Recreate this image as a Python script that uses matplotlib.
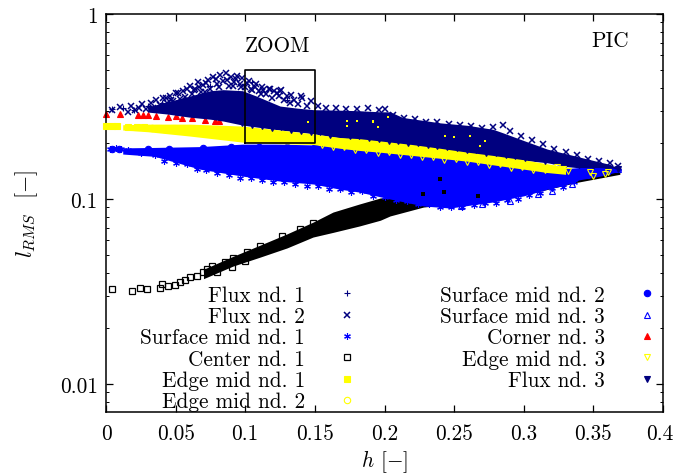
import matplotlib
matplotlib.use('Agg')
import matplotlib.pyplot as plt
from matplotlib.ticker import LogLocator, NullFormatter
from matplotlib.transforms import ScaledTranslation

plt.rcParams['font.family'] = ['cmr10', 'DejaVu Serif']
plt.rcParams['mathtext.fontset'] = 'cm'
plt.rcParams['axes.unicode_minus'] = False
plt.rcParams['axes.formatter.use_mathtext'] = True

# solid parts of the clouds
navy_h = [0.03, 0.044, 0.06, 0.075, 0.084, 0.098, 0.108, 0.125, 0.137, 0.149, 0.168, 0.182, 0.197, 0.204, 0.213, 0.24, 0.26, 0.278, 0.285, 0.30, 0.317, 0.33, 0.345, 0.36, 0.37]
navy_low = [0.295, 0.288, 0.277, 0.270, 0.264, 0.251, 0.245, 0.236, 0.231, 0.225, 0.214, 0.209, 0.203, 0.200, 0.196, 0.183, 0.176, 0.170, 0.167, 0.162, 0.157, 0.150, 0.146, 0.144, 0.143]
navy_high = [0.315, 0.335, 0.360, 0.385, 0.390, 0.385, 0.360, 0.318, 0.310, 0.304, 0.302, 0.300, 0.296, 0.296, 0.276, 0.258, 0.250, 0.238, 0.228, 0.207, 0.186, 0.176, 0.165, 0.155, 0.146]

yellow_h = [0.012, 0.03, 0.06, 0.098, 0.125, 0.149, 0.168, 0.182, 0.197, 0.22, 0.24, 0.26, 0.278, 0.30, 0.317, 0.33]
yellow_low = [0.236, 0.231, 0.219, 0.203, 0.199, 0.197, 0.188, 0.183, 0.179, 0.172, 0.166, 0.160, 0.153, 0.145, 0.139, 0.136]
yellow_high = [0.252, 0.254, 0.254, 0.248, 0.236, 0.225, 0.215, 0.212, 0.206, 0.197, 0.188, 0.179, 0.172, 0.163, 0.155, 0.149]

blue_h = [0.012, 0.035, 0.0675, 0.098, 0.125, 0.149, 0.168, 0.182, 0.204, 0.228, 0.247, 0.278, 0.30, 0.317, 0.33, 0.34, 0.355, 0.37]
blue_low = [0.175, 0.170, 0.145, 0.133, 0.125, 0.1205, 0.113, 0.109, 0.100, 0.0917, 0.0894, 0.0964, 0.104, 0.113, 0.119, 0.127, 0.133, 0.142]
blue_high = [0.189, 0.190, 0.192, 0.198, 0.198, 0.196, 0.192, 0.190, 0.185, 0.178, 0.172, 0.160, 0.152, 0.146, 0.146, 0.148, 0.148, 0.146]

black_h = [0.07, 0.0912, 0.1106, 0.13, 0.1487, 0.163, 0.182, 0.197, 0.204, 0.228, 0.25, 0.30, 0.338, 0.369]
black_low = [0.0371, 0.0434, 0.0485, 0.0544, 0.0623, 0.0660, 0.0715, 0.0768, 0.0810, 0.0905, 0.0940, 0.105, 0.123, 0.136]
black_high = [0.0417, 0.0490, 0.0563, 0.0648, 0.0750, 0.0850, 0.0940, 0.1013, 0.1023, 0.1020, 0.1000, 0.112, 0.130, 0.145]

# single markers, mostly along the rough edges of the clouds
flux1_h = [0.004, 0.012, 0.02, 0.03, 0.04, 0.05, 0.075, 0.105, 0.13]
flux1_y = [0.305, 0.312, 0.302, 0.318, 0.33, 0.33, 0.41, 0.43, 0.345]

flux2_h = [0.004, 0.01, 0.016, 0.018, 0.021, 0.024, 0.026, 0.029, 0.032, 0.034, 0.036, 0.039, 0.041, 0.044, 0.046, 0.048, 0.05, 0.053, 0.055, 0.057, 0.06, 0.062, 0.063, 0.066, 0.068, 0.07, 0.073, 0.075, 0.077, 0.08, 0.082, 0.084, 0.086, 0.088, 0.09, 0.092, 0.094, 0.096, 0.098, 0.1, 0.103, 0.105, 0.108, 0.11, 0.112, 0.115, 0.117, 0.119, 0.121, 0.124, 0.126, 0.128, 0.13, 0.132, 0.135, 0.138, 0.141, 0.144, 0.147, 0.152, 0.158, 0.165, 0.172, 0.18, 0.188, 0.196, 0.2, 0.206, 0.214, 0.222, 0.23, 0.238, 0.246, 0.254, 0.262, 0.27, 0.278, 0.285, 0.29, 0.298, 0.306, 0.314, 0.322, 0.33, 0.338, 0.346, 0.354, 0.362, 0.368,
           0.043, 0.052, 0.058, 0.067, 0.072, 0.079, 0.087, 0.093, 0.101, 0.107, 0.113, 0.118, 0.123, 0.125, 0.133, 0.14, 0.047, 0.064, 0.071, 0.081, 0.091, 0.097, 0.104, 0.111]
flux2_y = [0.303, 0.313, 0.295, 0.318, 0.302, 0.312, 0.328, 0.305, 0.33, 0.312, 0.345, 0.322, 0.352, 0.33, 0.362, 0.34, 0.375, 0.348, 0.385, 0.355, 0.41, 0.37, 0.39, 0.43, 0.38, 0.415, 0.44, 0.395, 0.455, 0.42, 0.47, 0.435, 0.478, 0.41, 0.455, 0.43, 0.46, 0.42, 0.45, 0.405, 0.435, 0.39, 0.42, 0.385, 0.405, 0.37, 0.395, 0.35, 0.385, 0.36, 0.39, 0.345, 0.36, 0.33, 0.345, 0.325, 0.35, 0.318, 0.34, 0.318, 0.312, 0.31, 0.308, 0.306, 0.31, 0.302, 0.306, 0.285, 0.275, 0.272, 0.262, 0.262, 0.255, 0.25, 0.248, 0.242, 0.246, 0.252, 0.232, 0.218, 0.208, 0.198, 0.186, 0.18, 0.172, 0.165, 0.16, 0.156, 0.15,
           0.352, 0.372, 0.395, 0.405, 0.425, 0.445, 0.44, 0.445, 0.425, 0.405, 0.39, 0.393, 0.375, 0.384, 0.365, 0.36, 0.345, 0.395, 0.38, 0.405, 0.41, 0.405, 0.395, 0.37]

surface1_h = [0.003, 0.007, 0.011, 0.016, 0.025, 0.035, 0.042, 0.05, 0.058, 0.065, 0.072, 0.08, 0.088, 0.096, 0.104, 0.112, 0.12, 0.128, 0.136, 0.144, 0.152, 0.16, 0.168, 0.176, 0.184, 0.192, 0.2, 0.208, 0.216, 0.224, 0.232, 0.24, 0.248, 0.256, 0.264, 0.272, 0.28, 0.288, 0.296, 0.304, 0.312, 0.32, 0.328, 0.336]
surface1_y = [0.187, 0.188, 0.187, 0.184, 0.178, 0.172, 0.161, 0.157, 0.154, 0.146, 0.143, 0.139, 0.134, 0.130, 0.130, 0.126, 0.123, 0.124, 0.120, 0.118, 0.118, 0.113, 0.113, 0.109, 0.110, 0.104, 0.102, 0.099, 0.098, 0.094, 0.094, 0.091, 0.0905, 0.0905, 0.093, 0.095, 0.0955, 0.099, 0.100, 0.105, 0.108, 0.114, 0.116, 0.124]

center_h = [0.0043, 0.0187, 0.0244, 0.0294, 0.0388, 0.0402, 0.0445, 0.0496, 0.0531, 0.0567, 0.0603, 0.0654, 0.0697, 0.0725, 0.0761, 0.0797, 0.0855, 0.0905, 0.0912, 0.1013, 0.0998, 0.1106, 0.1264, 0.1393, 0.1487]
center_y = [0.0327, 0.0318, 0.0330, 0.0327, 0.0330, 0.0347, 0.0339, 0.0343, 0.0358, 0.0365, 0.0379, 0.0384, 0.0404, 0.0418, 0.0434, 0.0404, 0.0456, 0.0428, 0.0480, 0.0515, 0.0462, 0.0557, 0.0632, 0.0688, 0.0744]

center_speck_h = [0.228, 0.243, 0.267, 0.24]
center_speck_y = [0.106, 0.109, 0.104, 0.128]

edge1_h = [0.0, 0.004, 0.008, 0.016, 0.022, 0.027, 0.037, 0.048, 0.055, 0.066, 0.08, 0.09]
edge1_y = [0.248, 0.248, 0.247, 0.246, 0.245, 0.246, 0.243, 0.243, 0.24, 0.238, 0.238, 0.232]

edge2_h = [0.033, 0.042, 0.05, 0.06, 0.07, 0.08]
edge2_y = [0.243, 0.24, 0.238, 0.24, 0.236, 0.233]

edge_speck_h = [0.192, 0.2025, 0.195, 0.2434, 0.25, 0.2614, 0.272, 0.2686, 0.145, 0.173, 0.18, 0.192, 0.173]
edge_speck_y = [0.264, 0.277, 0.245, 0.219, 0.216, 0.219, 0.206, 0.193, 0.261, 0.264, 0.264, 0.261, 0.248]

surface2_h = [0.004, 0.009, 0.03, 0.045, 0.07, 0.09, 0.11, 0.13, 0.15, 0.17, 0.19, 0.21, 0.23, 0.25, 0.27, 0.29, 0.305, 0.32]
surface2_y = [0.186, 0.186, 0.186, 0.186, 0.188, 0.19, 0.192, 0.192, 0.19, 0.186, 0.176, 0.171, 0.165, 0.158, 0.152, 0.146, 0.142, 0.137]

surface3_h = [0.255, 0.27, 0.29, 0.31, 0.32, 0.335, 0.345, 0.36, 0.368]
surface3_y = [0.0915, 0.094, 0.098, 0.106, 0.111, 0.121, 0.135, 0.142, 0.145]

corner3_h = [0.0, 0.01, 0.023, 0.0266, 0.03, 0.036, 0.0445, 0.05, 0.0546, 0.0618, 0.071, 0.078, 0.081]
corner3_y = [0.288, 0.288, 0.284, 0.284, 0.284, 0.281, 0.277, 0.281, 0.274, 0.274, 0.267, 0.264, 0.264]

edge3_h = [0.332, 0.3476, 0.3583, 0.324, 0.3167, 0.328, 0.35, 0.3605, 0.155, 0.163, 0.171, 0.179, 0.187, 0.195, 0.203, 0.211, 0.219, 0.227, 0.235, 0.243, 0.251, 0.259, 0.267, 0.275, 0.283, 0.291, 0.299, 0.307, 0.315]
edge3_y = [0.1415, 0.14, 0.136, 0.149, 0.145, 0.145, 0.133, 0.14, 0.197, 0.190, 0.190, 0.183, 0.184, 0.178, 0.179, 0.173, 0.174, 0.168, 0.169, 0.163, 0.164, 0.158, 0.159, 0.153, 0.154, 0.148, 0.149, 0.143, 0.143]

flux3_h = [0.098, 0.105, 0.112, 0.119, 0.126, 0.133, 0.14, 0.147, 0.154, 0.161, 0.168, 0.175, 0.182, 0.189, 0.196, 0.203, 0.21, 0.217, 0.224, 0.231, 0.238, 0.245, 0.252, 0.259, 0.266, 0.273, 0.28, 0.287, 0.294, 0.301, 0.308, 0.315, 0.322, 0.33, 0.34, 0.35, 0.36, 0.368]
flux3_y = [0.256, 0.25, 0.247, 0.242, 0.244, 0.236, 0.234, 0.231, 0.229, 0.223, 0.224, 0.218, 0.219, 0.213, 0.212, 0.207, 0.206, 0.201, 0.202, 0.195, 0.194, 0.19, 0.188, 0.184, 0.184, 0.177, 0.178, 0.172, 0.171, 0.166, 0.166, 0.16, 0.16, 0.154, 0.152, 0.15, 0.148, 0.146]

zoom_h = [0.1, 0.15, 0.15, 0.1, 0.1]
zoom_y = [0.2, 0.2, 0.5, 0.5, 0.2]

xtick_vals = [0, 0.05, 0.1, 0.15, 0.2, 0.25, 0.3, 0.35, 0.4]
xtick_labels = ['0', '0.05', '0.1', '0.15', '0.2', '0.25', '0.3', '0.35', '0.4']
ytick_vals = [0.01, 0.1, 1]
ytick_labels = ['0.01', '0.1', '1']

navy = '#00007f'
blue = '#0000ff'
yellow = '#ffff00'
fsize = 15.3

fig = plt.figure(figsize=(6.73, 4.77), dpi=100)
ax = fig.add_axes([106 / 673, 1 - 413 / 477, 557 / 673, 398 / 477])
ax.set_yscale('log')

ax.fill_between(navy_h, navy_low, navy_high, color=navy, lw=0, zorder=1)
ax.fill_between(black_h, black_low, black_high, color='black', lw=0, zorder=1)
ax.fill_between(blue_h, blue_low, blue_high, color=blue, lw=0, zorder=2)
ax.fill_between(yellow_h, yellow_low, yellow_high, color=yellow, lw=0, zorder=2.5)

def pts(h, y, marker, color, label, z, size=4.6, filled=False, edge=0.8):
    face = color if filled else 'none'
    ax.plot(h, y, ls='none', marker=marker, ms=size, mfc=face, mec=color, mew=edge, label=label, zorder=z, clip_on=False)

pts(flux1_h, flux1_y, '+', navy, 'Flux nd. 1', 3)
pts(flux2_h, flux2_y, 'x', navy, 'Flux nd. 2', 3, size=5, edge=1.1)
pts(surface1_h, surface1_y, (6, 2, 0), blue, 'Surface mid nd. 1', 2.2, size=4.8)
pts(center_h, center_y, 's', 'black', 'Center nd. 1', 3, size=4.4, edge=0.9)
pts(edge1_h, edge1_y, 's', yellow, 'Edge mid nd. 1', 2.6, filled=True, size=5)
pts(edge2_h, edge2_y, 'o', yellow, 'Edge mid nd. 2', 2.6)
pts(surface2_h, surface2_y, 'o', blue, 'Surface mid nd. 2', 2.2, filled=True)
pts(surface3_h, surface3_y, '^', blue, 'Surface mid nd. 3', 2.2)
pts(corner3_h, corner3_y, '^', 'red', 'Corner nd. 3', 0.8, filled=True)
pts(edge3_h, edge3_y, 'v', yellow, 'Edge mid nd. 3', 3.5, size=4.2)
pts(flux3_h, flux3_y, 'v', navy, 'Flux nd. 3', 2.8, filled=True)
ax.plot(edge_speck_h, edge_speck_y, ls='none', marker='s', ms=1.8, color=yellow, mew=0, zorder=3.5)
ax.plot(center_speck_h, center_speck_y, ls='none', marker='s', ms=2.2, color='black', mew=0, zorder=3.5)

ax.plot(zoom_h, zoom_y, color='black', lw=1.2, zorder=5)
ax.text(0.123, 0.68, 'ZOOM', fontsize=fsize, ha='center', va='center')
ax.text(0.362, 0.72, 'PIC', fontsize=fsize, ha='center', va='center')

ax.set_xlim(0, 0.4)
ax.set_ylim(0.00706, 1)
ax.set_xticks(xtick_vals, xtick_labels)
ax.set_yticks(ytick_vals, ytick_labels)
ax.yaxis.set_minor_locator(LogLocator(base=10, subs=range(2, 10), numticks=12))
ax.yaxis.set_minor_formatter(NullFormatter())
ax.tick_params(which='major', direction='in', top=True, right=True, length=5, width=0.9, labelsize=fsize)
ax.tick_params(axis='x', which='major', pad=8)
ax.tick_params(axis='y', which='major', pad=6)
ax.tick_params(which='minor', direction='in', right=True, length=2.5, width=0.7)
ax.set_xlabel(r'$h$ [$-$]', fontsize=fsize, labelpad=3)
ax.set_ylabel(r'$l_{RMS}$  [$-$]', fontsize=16, labelpad=14)
for s in ax.spines.values():
    s.set_linewidth(1.1)

# the last x label sits a little left of its tick
last = ax.get_xticklabels()[-1]
last.set_transform(last.get_transform() + ScaledTranslation(-3 / 100, 0, fig.dpi_scale_trans))

ax.legend(ncols=2, markerfirst=False, frameon=False, fontsize=fsize, loc='lower right',
          bbox_to_anchor=(1.016, -0.025), labelspacing=0.085, columnspacing=3.7,
          handletextpad=1.3, handlelength=1.36, borderpad=0, numpoints=1)

fig.savefig('out.png', dpi=100)
